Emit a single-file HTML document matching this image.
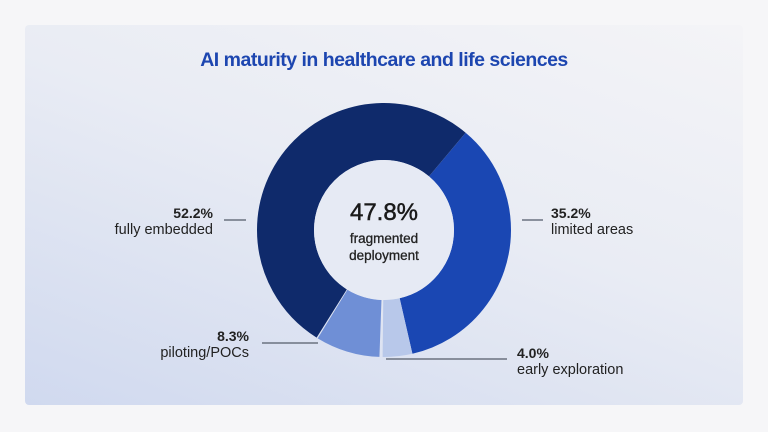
<!DOCTYPE html>
<html><head><style>
body{margin:0;width:768px;height:432px;background:#f6f6f8;font-family:"Liberation Sans",sans-serif;position:relative;overflow:hidden}
.card{position:absolute;left:25px;top:25px;width:718px;height:380px;border-radius:4px;background:linear-gradient(200deg,#f4f4f7 0%,#e9ecf4 45%,#d0d9ef 100%)}
.t{position:absolute;left:0;width:768px;top:49px;text-align:center;color:#1d46b0;font-weight:bold;font-size:19.5px;letter-spacing:-0.5px}
.l{position:absolute;font-size:14.5px;color:#222;line-height:16px}
.l b{font-size:14px}
</style></head><body>
<div class="card"></div>
<div class="t">AI maturity in healthcare and life sciences</div>
<svg width="768" height="432" style="position:absolute;left:0;top:0">
<g transform="rotate(-90 384 230)" fill="none" stroke-width="57">
<circle cx="384" cy="230" r="98.5" stroke="#1a47b3" stroke-dasharray="218.3 400.58" stroke-dashoffset="-68.76"/>
<circle cx="384" cy="230" r="98.5" stroke="#b8c8ea" stroke-dasharray="23.3 595.58" stroke-dashoffset="-287.1"/>
<circle cx="384" cy="230" r="98.5" stroke="#6f8fd6" stroke-dasharray="50.5 568.38" stroke-dashoffset="-312.9"/>
<circle cx="384" cy="230" r="98.5" stroke="#0f2a6b" stroke-dasharray="323.2 295.68" stroke-dashoffset="-364.4"/>
</g>
<circle cx="384" cy="230" r="70" fill="#e6eaf4"/>
<g stroke="#6b7280" stroke-width="1.5">
<line x1="224" y1="220" x2="246" y2="220"/>
<line x1="522" y1="220" x2="543" y2="220"/>
<line x1="262" y1="343" x2="318" y2="343"/>
<line x1="386" y1="359" x2="507" y2="359"/>
</g>
<text x="384" y="220" text-anchor="middle" font-size="24" fill="#1a1a1a" font-family="Liberation Sans" stroke="#1a1a1a" stroke-width="0.5">47.8%</text>
<text x="384" y="243" text-anchor="middle" font-size="13.5" fill="#222" font-family="Liberation Sans" stroke="#222" stroke-width="0.3">fragmented</text>
<text x="384" y="260" text-anchor="middle" font-size="13.5" fill="#222" font-family="Liberation Sans" stroke="#222" stroke-width="0.3">deployment</text>
</svg>
<div class="l" style="right:555px;top:205px;text-align:right"><b>52.2%</b><br>fully embedded</div>
<div class="l" style="left:551px;top:205px"><b>35.2%</b><br>limited areas</div>
<div class="l" style="right:519px;top:328px;text-align:right"><b>8.3%</b><br>piloting/POCs</div>
<div class="l" style="left:517px;top:345px"><b>4.0%</b><br>early exploration</div>
</body></html>
